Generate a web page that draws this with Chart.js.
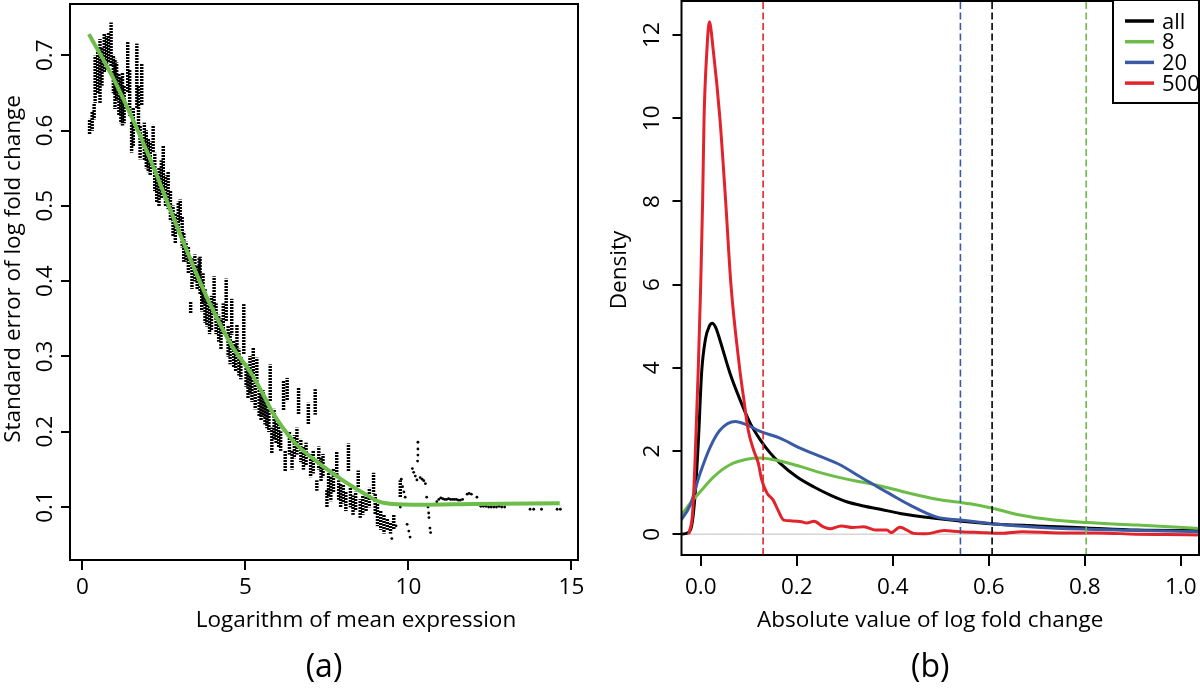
<!DOCTYPE html>
<html><head><meta charset="utf-8">
<script src="https://cdn.jsdelivr.net/npm/chart.js@4.4.1/dist/chart.umd.min.js"></script>
<style>
html,body{margin:0;padding:0;background:#fff;}
#wrap{position:relative;width:1200px;height:690px;overflow:hidden;background:#fff;}
canvas{position:absolute;top:0;}
#cA{left:0;}
#cB{left:600px;}
</style></head><body>
<div id="wrap"><canvas id="cA" width="600" height="690"></canvas><canvas id="cB" width="600" height="690"></canvas></div>
<script>
// ---------- Panel (a): standard error vs log mean expression ----------
const seXTicks = [0, 5, 10, 15];
const seXTickLabels = ['0', '5', '10', '15'];
const seYTicks = [0.1, 0.2, 0.3, 0.4, 0.5, 0.6, 0.7];
const seYTickLabels = ['0.1', '0.2', '0.3', '0.4', '0.5', '0.6', '0.7'];
// vertical runs of points: [x, lowest y, highest y]
const seStreaks = [
  [0.22,0.595,0.615],[0.30,0.600,0.625],[0.36,0.615,0.635],[0.39,0.637,0.699],[0.47,0.650,0.705],
  [0.54,0.637,0.721],[0.60,0.660,0.710],[0.67,0.677,0.728],[0.74,0.680,0.725],[0.80,0.690,0.730],
  [0.88,0.686,0.743],[0.95,0.650,0.700],[1.00,0.629,0.695],[1.05,0.640,0.690],[1.12,0.620,0.675],
  [1.18,0.610,0.670],[1.23,0.607,0.677],[1.28,0.610,0.660],[1.39,0.651,0.717],[1.45,0.620,0.680],
  [1.51,0.571,0.611],[1.56,0.580,0.630],[1.67,0.629,0.715],[1.72,0.600,0.660],[1.77,0.562,0.607],
  [1.82,0.633,0.688],[1.90,0.560,0.610],[1.96,0.550,0.600],[2.02,0.545,0.589],[2.08,0.540,0.585],
  [2.17,0.571,0.607],[2.22,0.520,0.570],[2.28,0.505,0.541],[2.35,0.500,0.550],[2.42,0.510,0.560],
  [2.48,0.518,0.580],[2.55,0.500,0.540],[2.63,0.496,0.545],[2.70,0.480,0.520],[2.78,0.460,0.500],
  [2.85,0.450,0.490],[2.94,0.465,0.505],[3.00,0.479,0.508],[3.06,0.445,0.485],[3.11,0.426,0.465],
  [3.18,0.426,0.452],[3.25,0.410,0.445],[3.32,0.357,0.373],[3.36,0.390,0.430],[3.45,0.400,0.435],
  [3.52,0.390,0.420],[3.58,0.403,0.430],[3.61,0.382,0.432],[3.66,0.360,0.400],[3.70,0.370,0.410],
  [3.76,0.345,0.390],[3.82,0.340,0.375],[3.90,0.330,0.370],[3.96,0.335,0.380],[4.04,0.364,0.406],
  [4.10,0.330,0.370],[4.18,0.320,0.355],[4.25,0.310,0.350],[4.32,0.330,0.370],[4.41,0.347,0.403],
  [4.47,0.300,0.340],[4.53,0.290,0.330],[4.58,0.329,0.376],[4.64,0.285,0.320],[4.70,0.280,0.315],
  [4.74,0.307,0.342],[4.80,0.275,0.310],[4.86,0.270,0.300],[4.95,0.303,0.369],[5.02,0.260,0.290],
  [5.08,0.245,0.285],[5.14,0.250,0.300],[5.20,0.240,0.280],[5.24,0.276,0.311],[5.30,0.230,0.265],
  [5.35,0.267,0.298],[5.42,0.220,0.260],[5.48,0.215,0.250],[5.54,0.220,0.255],[5.60,0.210,0.245],
  [5.66,0.205,0.240],[5.72,0.200,0.230],[5.76,0.241,0.289],[5.81,0.172,0.205],[5.88,0.190,0.230],
  [5.94,0.185,0.215],[6.02,0.180,0.210],[6.08,0.175,0.200],[6.17,0.228,0.267],[6.22,0.148,0.175],
  [6.28,0.241,0.271],[6.35,0.170,0.200],[6.43,0.150,0.175],[6.50,0.165,0.195],[6.58,0.170,0.205],
  [6.63,0.223,0.258],[6.70,0.160,0.190],[6.78,0.150,0.180],[6.86,0.155,0.185],[6.93,0.210,0.238],
  [7.00,0.140,0.170],[7.08,0.145,0.175],[7.14,0.223,0.256],[7.19,0.122,0.135],[7.25,0.150,0.180],
  [7.32,0.135,0.165],[7.38,0.140,0.170],[7.50,0.100,0.122],[7.55,0.115,0.145],[7.62,0.108,0.140],
  [7.70,0.120,0.150],[7.80,0.143,0.174],[7.86,0.110,0.135],[7.92,0.100,0.130],[8.00,0.105,0.130],
  [8.08,0.095,0.120],[8.16,0.148,0.184],[8.22,0.100,0.126],[8.30,0.090,0.115],[8.38,0.095,0.120],
  [8.46,0.126,0.148],[8.52,0.086,0.110],[8.60,0.090,0.115],[8.70,0.095,0.118],[8.80,0.100,0.125],
  [8.93,0.118,0.145],[8.98,0.091,0.118],[9.05,0.075,0.105],[9.15,0.070,0.095],[9.25,0.065,0.090],
  [9.35,0.070,0.085],[9.45,0.065,0.080],[9.55,0.070,0.090],[9.75,0.113,0.135]
];
// isolated points: [x, y]
const sePoints = [
  [9.49,0.058],[9.62,0.075],[9.75,0.100],[9.78,0.137],[9.82,0.127],[9.86,0.120],[9.90,0.113],
  [9.96,0.077],[10.01,0.068],[10.05,0.060],[10.12,0.151],[10.16,0.146],[10.21,0.141],[10.26,0.136],
  [10.29,0.186],[10.29,0.177],[10.29,0.169],[10.28,0.161],[10.36,0.139],[10.42,0.137],[10.47,0.135],
  [10.52,0.131],[10.56,0.113],[10.60,0.100],[10.62,0.092],[10.63,0.086],[10.66,0.072],[10.68,0.066],
  [10.87,0.107],[10.93,0.110],[10.99,0.112],[11.05,0.111],[11.11,0.110],[11.17,0.110],[11.23,0.111],
  [11.29,0.110],[11.35,0.110],[11.41,0.110],[11.47,0.110],[11.53,0.109],[11.59,0.109],[11.66,0.110],
  [11.80,0.117],[11.86,0.118],[11.93,0.117],[12.10,0.113],[12.22,0.101],[12.30,0.101],[12.38,0.101],
  [12.46,0.100],[12.54,0.100],[12.62,0.100],[12.70,0.100],[12.78,0.101],[12.86,0.100],[12.95,0.100],
  [13.73,0.097],[13.84,0.097],[14.08,0.097],[14.56,0.097],[14.66,0.097]
];
// smooth fit (green)
const fitX = [0.2, 1.0, 2.0, 3.0, 3.8, 4.6, 5.2, 5.6, 5.8, 6.5, 7.2, 8.0, 8.6, 9.1, 9.5, 10.4, 12.0, 14.64];
const fitY = [0.728, 0.665, 0.570, 0.462, 0.380, 0.313, 0.276, 0.245, 0.228, 0.186, 0.160, 0.135, 0.119, 0.107, 0.104, 0.103, 0.104, 0.105];

// ---------- Panel (b): densities of |log fold change| ----------
const dXTicks = [0, 0.2, 0.4, 0.6, 0.8, 1.0];
const dXTickLabels = ['0.0', '0.2', '0.4', '0.6', '0.8', '1.0'];
const dYTicks = [0, 2, 4, 6, 8, 10, 12];
const dYTickLabels = ['0', '2', '4', '6', '8', '10', '12'];
const seriesNames = ['all', '8', '20', '500'];
const seriesColors = ['#000000', '#6bbd48', '#3a5aa6', '#e2232b'];
const allX = [-0.043,-0.03,-0.02,-0.012,-0.005,0.002,0.010,0.018,0.024,0.032,0.040,0.061,0.082,0.103,0.124,0.145,0.165,0.200,0.235,0.270,0.304,0.339,0.374,0.415,0.492,0.596,0.700,0.804,0.909,1.038];
const allY = [0.0,0.02,0.15,0.9,2.2,3.9,4.7,5.0,5.07,4.95,4.67,3.87,3.23,2.67,2.27,1.95,1.71,1.38,1.14,0.94,0.78,0.68,0.60,0.50,0.38,0.26,0.20,0.15,0.10,0.09];
const n8X = [-0.043,-0.022,-0.001,0.027,0.061,0.096,0.124,0.165,0.207,0.249,0.290,0.332,0.374,0.422,0.492,0.561,0.610,0.665,0.735,0.804,0.909,1.038];
const n8Y = [0.42,0.74,1.02,1.38,1.67,1.80,1.83,1.76,1.63,1.48,1.36,1.26,1.16,1.02,0.84,0.73,0.62,0.46,0.34,0.28,0.22,0.14];
const n20X = [-0.043,-0.022,-0.001,0.020,0.040,0.072,0.096,0.124,0.165,0.207,0.249,0.290,0.332,0.353,0.374,0.394,0.436,0.492,0.540,0.603,0.700,0.804,0.909,1.038];
const n20Y = [0.30,0.70,1.47,2.10,2.50,2.71,2.63,2.47,2.31,2.07,1.87,1.67,1.38,1.24,1.10,0.97,0.70,0.41,0.34,0.26,0.17,0.12,0.09,0.06];
const n500X = [-0.025,-0.017,-0.012,-0.005,0.000,0.004,0.007,0.013,0.018,0.026,0.040,0.052,0.063,0.081,0.089,0.099,0.110,0.120,0.127,0.138,0.151,0.161,0.173,0.190,0.210,0.221,0.236,0.255,0.269,0.293,0.317,0.340,0.364,0.388,0.397,0.415,0.444,0.470,0.507,0.540,0.580,0.627,0.670,0.747,0.827,0.907,0.970,1.038];
const n500Y = [0.0,0.5,1.7,4.0,6.0,8.0,10.0,11.65,12.32,11.65,10.0,8.0,6.0,4.0,3.31,2.5,2.03,1.71,1.31,0.99,0.82,0.58,0.34,0.32,0.30,0.27,0.31,0.18,0.13,0.20,0.16,0.18,0.10,0.10,0.04,0.17,0.02,0.01,0.09,0.06,0.04,0.02,0.06,0.03,0.03,0.0,-0.01,-0.02];
// dashed reference lines (same order as seriesNames)
const meanLines = [0.607, 0.803, 0.541, 0.130];

// ---------- rendering ----------
const F = "'Open Sans', sans-serif";
const AXIS_FONT = {family: F, size: 22.5};
const SE_RANGE = {xMin: -0.38, xMax: 15.2, yMin: 0.0296, yMax: 0.768};
const D_RANGE = {xMin: -0.04, xMax: 1.038, yMin: -0.5, yMax: 12.82};

function pts(xs, ys) { return xs.map((x, i) => ({x: x, y: ys[i]})); }

function dotPattern(offset) {
  const c = document.createElement('canvas');
  c.width = 3; c.height = 3;
  const g = c.getContext('2d');
  g.fillStyle = '#000';
  g.fillRect(0, offset, 3, 2);
  if (offset === 2) g.fillRect(0, 0, 3, 1);
  return g.createPattern(c, 'repeat');
}
const dotPatterns = [dotPattern(0), dotPattern(1), dotPattern(2)];

const framePlugin = {
  id: 'frame',
  afterDatasetsDraw(chart) {
    const a = chart.chartArea, ctx = chart.ctx;
    ctx.save();
    ctx.strokeStyle = '#000';
    ctx.lineWidth = 2;
    ctx.strokeRect(a.left, a.top, a.right - a.left, a.bottom - a.top);
    ctx.restore();
  }
};

// nudges the axis titles / panel label to where the original figure has them
// (applied only while the axes are painted, removed again before the datasets are drawn)
function titleShift(dx, dy, dt) {
  function apply(chart, k) {
    const sx = chart.scales.x, sy = chart.scales.y;
    sx.left += k * dx; sx.right += k * dx;
    sy.top += k * dy; sy.bottom += k * dy;
    if (chart.titleBlock) { chart.titleBlock.left += k * dt; chart.titleBlock.right += k * dt; }
  }
  return {
    id: 'titleShift',
    beforeDraw(chart) { apply(chart, 1); },
    beforeDatasetsDraw(chart) { apply(chart, -1); }
  };
}

function axisCfg(o) {
  return {
    type: 'linear', min: o.min, max: o.max, offset: false,
    afterBuildTicks: s => { s.ticks = o.ticks.map(v => ({value: v})); },
    afterFit: s => {
      o.fit(s);
      s.paddingTop = 0; s.paddingBottom = 0; s.paddingLeft = 0; s.paddingRight = 0;
    },
    ticks: Object.assign({font: AXIS_FONT, color: '#000', autoSkip: false,
      callback: (v, i) => o.labels[i]}, o.tickOpts),
    grid: {display: true, drawOnChartArea: false, drawTicks: true, tickLength: o.tl,
      color: '#000', lineWidth: 2, offset: false},
    border: {display: false},
    title: {display: true, text: o.title, font: AXIS_FONT, color: '#000', padding: o.tpad}
  };
}

Chart.defaults.font.family = F;

new Chart(document.getElementById('cA'), {
  type: 'scatter',
  data: {
    datasets: [
      {type: 'line', label: 'fit', data: pts(fitX, fitY), borderColor: '#6cbd4a', borderWidth: 4,
        pointRadius: 0, cubicInterpolationMode: 'monotone', order: 0},
      {type: 'scatter', label: 'genes', data: sePoints.map(p => ({x: p[0], y: p[1]})),
        pointRadius: 1.4, backgroundColor: '#000', borderWidth: 0, order: 1},
      {type: 'bar', label: 'genes (runs)', data: seStreaks.map(s => ({x: s[0], y: [s[1], s[2]]})),
        backgroundColor: c => dotPatterns[c.dataIndex % 3], barThickness: 2.8, borderWidth: 0, order: 2}
    ]
  },
  options: {
    responsive: false, animation: false, devicePixelRatio: 1,
    layout: {padding: {left: 0, top: 1, right: 22, bottom: 0}},
    plugins: {
      legend: {display: false}, tooltip: {enabled: false},
      title: {display: true, text: '(a)', position: 'bottom', fullSize: false, color: '#000',
        font: {family: F, size: 32, weight: 'normal'}, padding: {top: 0, bottom: 3}}
    },
    scales: {
      x: axisCfg({min: SE_RANGE.xMin, max: SE_RANGE.xMax, ticks: seXTicks, labels: seXTickLabels,
        fit: s => { s.height = 88.6; }, tl: 10, tickOpts: {padding: 4.5, maxRotation: 0, minRotation: 0},
        title: 'Logarithm of mean expression', tpad: {top: 0, bottom: 14.6}}),
      y: axisCfg({min: SE_RANGE.yMin, max: SE_RANGE.yMax, ticks: seYTicks, labels: seYTickLabels,
        fit: s => { s.width = 70; }, tl: 9,
        tickOpts: {padding: 0, minRotation: 90, maxRotation: 90, crossAlign: 'center'},
        title: 'Standard error of log fold change', tpad: {top: 0, bottom: 0}})
    }
  },
  plugins: [framePlugin, titleShift(32, -13, 0)]
});

const zeroLinePlugin = {
  id: 'zeroLine',
  beforeDatasetsDraw(chart) {
    const a = chart.chartArea, ctx = chart.ctx;
    const y0 = chart.scales.y.getPixelForValue(0);
    ctx.save();
    ctx.strokeStyle = '#d6d6d6';
    ctx.lineWidth = 1.5;
    ctx.beginPath(); ctx.moveTo(a.left, y0); ctx.lineTo(a.right, y0); ctx.stroke();
    ctx.restore();
  }
};

const legendPlugin = {
  id: 'boxLegend',
  afterDraw(chart) {
    const a = chart.chartArea, ctx = chart.ctx;
    const w = 86, h = 103, x0 = a.right - w, y0 = a.top - 1;
    ctx.save();
    ctx.fillStyle = '#fff';
    ctx.fillRect(x0, y0, w, h);
    ctx.strokeStyle = '#000'; ctx.lineWidth = 2;
    ctx.strokeRect(x0, y0, w, h);
    ctx.font = '22px ' + F;
    ctx.textBaseline = 'alphabetic';
    ctx.textAlign = 'left';
    seriesNames.forEach((name, i) => {
      const y = y0 + 21 + i * 20.7;
      ctx.strokeStyle = seriesColors[i]; ctx.lineWidth = 3.5;
      ctx.beginPath(); ctx.moveTo(x0 + 12, y); ctx.lineTo(x0 + 41, y); ctx.stroke();
      ctx.fillStyle = '#000';
      ctx.fillText(name, x0 + 49, y + 7.5);
    });
    ctx.restore();
  }
};

const densData = [pts(allX, allY), pts(n8X, n8Y), pts(n20X, n20Y), pts(n500X, n500Y)];
const dDatasets = [];
seriesNames.forEach((name, i) => {
  dDatasets.push({type: 'line', label: name, data: densData[i], borderColor: seriesColors[i],
    borderWidth: 3, pointRadius: 0, cubicInterpolationMode: 'monotone', order: 10 - i});
});
meanLines.forEach((v, i) => {
  dDatasets.push({type: 'line', label: seriesNames[i] + ' mean', data: [{x: v, y: D_RANGE.yMin}, {x: v, y: D_RANGE.yMax}],
    borderColor: seriesColors[i], borderWidth: 1.6, borderDash: [7, 3.5], pointRadius: 0, order: 1});
});

new Chart(document.getElementById('cB'), {
  type: 'scatter',
  data: {datasets: dDatasets},
  options: {
    responsive: false, animation: false, devicePixelRatio: 1,
    layout: {padding: {left: 0, top: 1, right: 1, bottom: 0}},
    plugins: {
      legend: {display: false}, tooltip: {enabled: false},
      title: {display: true, text: '(b)', position: 'bottom', fullSize: false, color: '#000',
        font: {family: F, size: 32, weight: 'normal'}, padding: {top: 0, bottom: 3}}
    },
    scales: {
      x: axisCfg({min: D_RANGE.xMin, max: D_RANGE.xMax, ticks: dXTicks, labels: dXTickLabels,
        fit: s => { s.height = 93.6; }, tl: 11, tickOpts: {padding: 8.5, maxRotation: 0, minRotation: 0},
        title: 'Absolute value of log fold change', tpad: {top: 0, bottom: 14.6}}),
      y: axisCfg({min: D_RANGE.yMin, max: D_RANGE.yMax, ticks: dYTicks, labels: dYTickLabels,
        fit: s => { s.width = 81.5; }, tl: 9,
        tickOpts: {padding: 6.9, minRotation: 90, maxRotation: 90, crossAlign: 'center'},
        title: 'Density', tpad: {top: 6.5, bottom: 0}})
    }
  },
  plugins: [framePlugin, zeroLinePlugin, legendPlugin, titleShift(-10, -8, -10)]
});
</script>
</body></html>
